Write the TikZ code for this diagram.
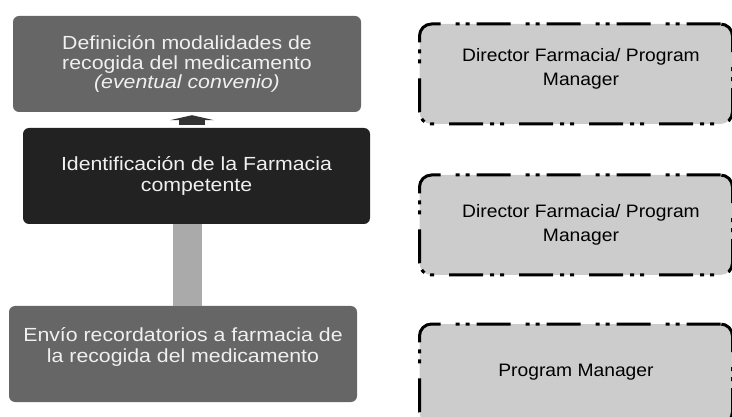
\documentclass[tikz,border=0pt]{standalone}
\usepackage{fontspec}
\setmainfont{Liberation Sans}
\newfontfamily\stepfont{Liberation Sans}[FakeStretch=1.12]
\newfontfamily\rolefont{Liberation Sans}[FakeStretch=1.07]
\usepackage{tikz}
\usetikzlibrary{arrows.meta}
\definecolor{midgray}{HTML}{666666}
\definecolor{darkbox}{HTML}{222222}
\definecolor{rolegray}{HTML}{CCCCCC}
\definecolor{bargray}{HTML}{AAAAAA}
\definecolor{arrowgray}{HTML}{333333}

\begin{document}
\begin{tikzpicture}[x=1pt,y=-1pt,
    stepbox/.style={rounded corners=6pt, minimum height=96pt, inner sep=0pt, text=white!94!black,
        align=center, font=\stepfont\fontsize{19}{20.5}\selectfont},
    steptext/.style={text=white!94!black, align=center, inner sep=0pt,
        font=\stepfont\fontsize{19}{21}\selectfont},
    rolebox/.style={draw=black, line width=3pt, fill=rolegray, rounded corners=12pt,
        minimum width=313pt, minimum height=100pt, inner sep=0pt,
        dash pattern=on 34pt off 7pt on 4pt off 6pt on 4pt off 15pt},
    roletext/.style={align=center, inner sep=0pt, font=\rolefont\fontsize{18}{24}\selectfont},
    barlink/.style={draw=bargray, line width=29pt},
    uplink/.style={draw=arrowgray, line width=26pt, -{Triangle[width=44pt,length=5pt]}}]
    \useasboundingbox (0,0) rectangle (732,417);
    \node[stepbox, fill=midgray, minimum width=348pt, font=\stepfont\fontsize{19}{19.5}\selectfont] (defin) at (187,64)
        {Definición modalidades de\\recogida del medicamento\\\textit{(eventual convenio)}};
    \node[stepbox, fill=darkbox, minimum width=347pt] (ident) at (196.5,176)
        {Identificación de la Farmacia\\competente};
    \node[stepbox, fill=midgray, minimum width=348pt] (envio) at (183,354) {};
    \node[steptext] (envioText) at ([yshift=7pt]envio.center)
        {Envío recordatorios a farmacia de\\la recogida del medicamento};
    \draw[barlink] (ident.south -| defin.south) -- (envio.north -| defin.south);
    \draw[uplink] ([xshift=5pt,yshift=3pt]ident.north -| defin.south) -- ([xshift=5pt,yshift=-3pt]defin.south);
    \node[rolebox] (dirA) at (576,74) {};
    \node[roletext] (dirAText) at ([xshift=5pt,yshift=5pt]dirA.center) {Director Farmacia/ Program\\Manager};
    \node[rolebox] (dirB) at (576,225) {};
    \node[roletext] (dirBText) at ([xshift=5pt]dirB.center) {Director Farmacia/ Program\\Manager};
    \node[rolebox] (pm) at (576,374) {};
    \node[roletext] (pmText) at ([yshift=2pt]pm.center) {Program Manager};
\end{tikzpicture}
\end{document}
